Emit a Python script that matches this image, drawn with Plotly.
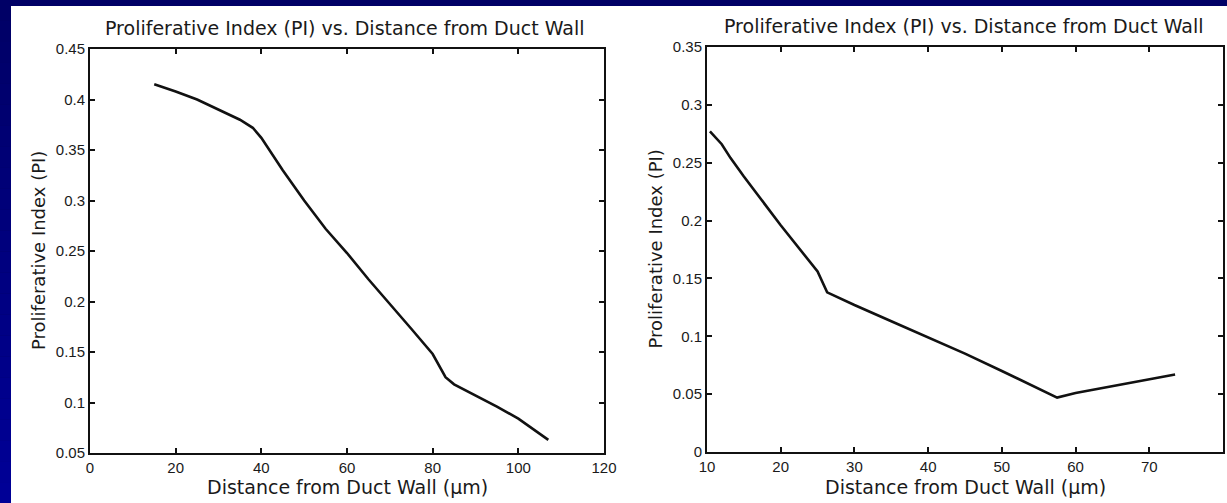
import plotly.graph_objects as go

# Left chart data
left_x = [15, 20, 25, 30, 35, 38, 40, 45, 50, 55, 60, 65, 70, 75, 80, 83, 85, 90, 95, 100, 107]
left_y = [0.415, 0.408, 0.400, 0.390, 0.380, 0.372, 0.362, 0.330, 0.300, 0.272, 0.248, 0.222,
          0.198, 0.173, 0.148, 0.125, 0.118, 0.107, 0.096, 0.084, 0.063]

# Right chart data
right_x = [10.4, 12, 13.2, 15, 20, 23, 25, 26.3, 30, 35, 40, 45, 50, 55, 57.5, 60, 65, 70, 73.5]
right_y = [0.277, 0.266, 0.254, 0.238, 0.196, 0.172, 0.156, 0.138, 0.127, 0.113, 0.099, 0.085,
           0.070, 0.055, 0.047, 0.051, 0.057, 0.063, 0.067]

left_xticks = [0, 20, 40, 60, 80, 100, 120]
left_yticks = [0.05, 0.1, 0.15, 0.2, 0.25, 0.3, 0.35, 0.4, 0.45]
left_yticktext = ["0.05", "0.1", "0.15", "0.2", "0.25", "0.3", "0.35", "0.4", "0.45"]
right_xticks = [10, 20, 30, 40, 50, 60, 70, 80]
right_yticks = [0, 0.05, 0.1, 0.15, 0.2, 0.25, 0.3, 0.35]
right_yticktext = ["0", "0.05", "0.1", "0.15", "0.2", "0.25", "0.3", "0.35"]

title_text = "Proliferative Index (PI) vs. Distance from Duct Wall"
xlabel = "Distance from Duct Wall (µm)"
ylabel = "Proliferative Index (PI)"

W, H = 1227, 503
FONT = "Liberation Sans, Arial, sans-serif"
LFONT = "DejaVu Sans, sans-serif"
TXT = "#1a1a1a"

fig = go.Figure()
fig.add_trace(go.Scatter(x=left_x, y=left_y, mode="lines", xaxis="x", yaxis="y",
                         line=dict(color="#111111", width=2.6), showlegend=False))
fig.add_trace(go.Scatter(x=right_x, y=right_y, mode="lines", xaxis="x2", yaxis="y2",
                         line=dict(color="#111111", width=2.6), showlegend=False))

axis_common = dict(showline=True, linecolor="#111111", linewidth=2, mirror="ticks",
                   ticks="inside", ticklen=5, tickwidth=1.5, tickcolor="#111111",
                   showgrid=False, zeroline=False, automargin=False,
                   tickfont=dict(family=FONT, size=15, color=TXT))

L = dict(x0=90, x1=604, top=49, bot=453)
R = dict(x0=707, x1=1223, top=47, bot=452)

# background: navy slide with vertical gradient on the visible left strip
shapes = []
nb = 24
for i in range(nb):
    t = i / (nb - 1)
    b = int(round(102 + (150 - 102) * t))
    y_top = 1 - i / nb
    y_bot = 1 - (i + 1) / nb
    shapes.append(dict(type="rect", xref="paper", yref="paper", x0=0, x1=11 / W,
                       y0=y_bot, y1=y_top, fillcolor=f"rgb(0,0,{b})",
                       line=dict(width=0), layer="below"))
shapes.append(dict(type="rect", xref="paper", yref="paper", x0=11 / W, x1=1, y0=0, y1=1 - 6 / H,
                   fillcolor="white", line=dict(width=0), layer="below"))

fig.update_layout(
    template="none",
    width=W, height=H,
    autosize=False,
    margin=dict(l=0, r=0, t=0, b=0, pad=0),
    paper_bgcolor="#000066",
    plot_bgcolor="white",
    xaxis=dict(domain=[L["x0"] / W, L["x1"] / W], range=[0, 120], tickvals=left_xticks,
               anchor="y", **axis_common),
    yaxis=dict(domain=[1 - L["bot"] / H, 1 - L["top"] / H], range=[0.05, 0.45],
               tickvals=left_yticks, ticktext=left_yticktext, anchor="x", **axis_common),
    xaxis2=dict(domain=[R["x0"] / W, R["x1"] / W], range=[10, 80], tickvals=right_xticks,
                anchor="y2", **axis_common),
    yaxis2=dict(domain=[1 - R["bot"] / H, 1 - R["top"] / H], range=[0, 0.35],
                tickvals=right_yticks, ticktext=right_yticktext, anchor="x2", **axis_common),
    shapes=shapes,
)

ann = []
for cx, ty in [(344 / W, 1 - 28 / H), (963 / W, 1 - 26 / H)]:
    ann.append(dict(text=title_text, x=cx, y=ty, xref="paper", yref="paper", showarrow=False,
                    font=dict(family=LFONT, size=19, color=TXT), xanchor="center", yanchor="middle"))
for P in [L, R]:
    cx = (P["x0"] + P["x1"]) / 2 / W
    ann.append(dict(text=xlabel, x=cx, y=1 - 487 / H, xref="paper", yref="paper", showarrow=False,
                    font=dict(family=LFONT, size=19, color=TXT), xanchor="center", yanchor="middle"))
for yx, P in [(38 / W, L), (655 / W, R)]:
    cy = 1 - (P["top"] + P["bot"]) / 2 / H
    ann.append(dict(text=ylabel, x=yx, y=cy, xref="paper", yref="paper",
                    showarrow=False, textangle=-90,
                    font=dict(family=LFONT, size=18, color=TXT), xanchor="center", yanchor="middle"))
fig.update_layout(annotations=ann)

fig.write_html("out.html")
